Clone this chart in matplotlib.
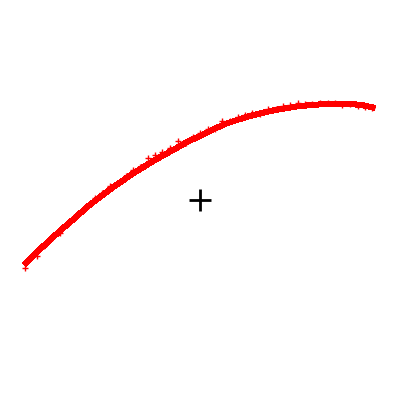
import matplotlib
matplotlib.use("Agg")
import matplotlib.pyplot as plt

# fitted curve
curve_x = [24, 37, 50, 62, 75, 87, 100, 112, 125, 137, 150, 162, 175, 187, 200, 212,
           225, 237, 250, 262, 275, 287, 300, 312, 325, 337, 350, 362, 375]
curve_y = [265, 252, 240, 229, 218, 207, 197, 188, 179, 171, 163, 156, 149, 142, 136, 130,
           124, 120, 116, 113, 110, 108, 106, 105, 104, 104, 104, 105, 108]

# noisy samples
pts_x = [25, 30, 37, 44, 52, 60, 68, 74, 80, 88, 95, 102, 110, 118, 126, 133, 140,
         148, 155, 162, 170, 178, 186, 193, 200, 208, 215, 222, 230, 238, 245, 252,
         260, 268, 276, 283, 290, 298, 305, 312, 320, 328, 335, 342, 350, 358, 365, 372]
pts_y = [268, 258, 256, 246, 238, 233, 224, 217, 213, 206, 198, 193, 186, 183, 176, 170, 167,
         158, 155, 152, 148, 141, 143, 137, 133, 129, 129, 121, 121, 117, 115, 113,
         114, 109, 109, 106, 105, 103, 104, 104, 103, 103, 103, 105, 104, 106, 107, 108]

center_x = [200]
center_y = [200]

fig = plt.figure(figsize=(4, 4), dpi=100)
ax = fig.add_axes([0, 0, 1, 1])
ax.plot(curve_x, curve_y, color="red", lw=3.6, solid_capstyle="butt", antialiased=False)
ax.plot(pts_x, pts_y, ls="none", marker="+", color="red", ms=4, mew=1, antialiased=False)
ax.plot(center_x, center_y, ls="none", marker="+", color="black", ms=16, mew=2)
ax.set_xlim(0, 400)
ax.set_ylim(400, 0)
ax.axis("off")
fig.savefig("out.png", dpi=100)
